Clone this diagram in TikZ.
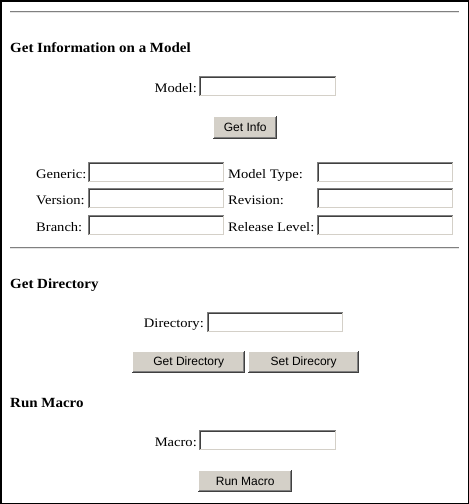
\documentclass[tikz,border=0pt]{standalone}
\usepackage{fontspec}
\setmainfont{Liberation Serif}
\newfontfamily\lblfont{Liberation Serif}[FakeStretch=1.12]
\newfontfamily\headfont{Liberation Serif}[FakeStretch=1.07]
\newfontfamily\btnfont{Liberation Sans}
\usetikzlibrary{calc}
\definecolor{ink}{HTML}{000000}
\definecolor{rulegray}{HTML}{808080}
\definecolor{rulelight}{HTML}{E4E4E4}
\definecolor{face}{HTML}{D4D0C8}
\definecolor{shadow}{HTML}{808080}
\definecolor{darkshadow}{HTML}{404040}
\tikzset{
  frame/.style={draw=ink, line width=1.5pt},
  hrule/.style={draw=rulegray, line width=1pt},
  hrulelo/.style={draw=rulelight, line width=1pt},
  head/.style={text=ink, inner sep=0pt, anchor=base west, font=\headfont\bfseries\fontsize{14pt}{16pt}\selectfont},
  lbl/.style={text=ink, inner sep=0pt, font=\lblfont\fontsize{13pt}{15pt}\selectfont},
  field/.style={rectangle, inner sep=0pt, anchor=north west, fill=white,
    minimum width=137pt, minimum height=20pt,
    path picture={
      \draw[shadow, line width=1pt]
        ([shift={(0.5pt,0.5pt)}]path picture bounding box.south west) --
        ([shift={(0.5pt,-0.5pt)}]path picture bounding box.north west) --
        ([shift={(-0.5pt,-0.5pt)}]path picture bounding box.north east);
      \draw[darkshadow, line width=1pt]
        ([shift={(1.5pt,1.5pt)}]path picture bounding box.south west) --
        ([shift={(1.5pt,-1.5pt)}]path picture bounding box.north west) --
        ([shift={(-1.5pt,-1.5pt)}]path picture bounding box.north east);
      \draw[face, line width=1pt]
        ([shift={(1pt,0.5pt)}]path picture bounding box.south west) --
        ([shift={(-0.5pt,0.5pt)}]path picture bounding box.south east) --
        ([shift={(-0.5pt,-1pt)}]path picture bounding box.north east);
    }},
  button/.style={rectangle, inner sep=0pt, anchor=north west, fill=face, text=ink,
    font=\btnfont\fontsize{12pt}{14pt}\selectfont,
    path picture={
      \draw[white, line width=1pt]
        ([shift={(0.5pt,1pt)}]path picture bounding box.south west) --
        ([shift={(0.5pt,-0.5pt)}]path picture bounding box.north west) --
        ([shift={(-1pt,-0.5pt)}]path picture bounding box.north east);
      \draw[darkshadow, line width=1pt]
        ([shift={(0pt,0.5pt)}]path picture bounding box.south west) --
        ([shift={(-0.5pt,0.5pt)}]path picture bounding box.south east) --
        ([shift={(-0.5pt,0pt)}]path picture bounding box.north east);
      \draw[shadow, line width=1pt]
        ([shift={(1pt,1.5pt)}]path picture bounding box.south west) --
        ([shift={(-1.5pt,1.5pt)}]path picture bounding box.south east) --
        ([shift={(-1.5pt,-1pt)}]path picture bounding box.north east);
    }}
}
\begin{document}
\begin{tikzpicture}[x=1pt, y=-1pt]
  \useasboundingbox (0,0) rectangle (469,504);
  \draw[frame] (0.75,0.75) rectangle (468.25,503.25);

  % first section
  \draw[hrule] (10,11.5) -- (459,11.5);
  \draw[hrulelo] (10,12.5) -- (459,12.5);
  \node[head] (hinfo) at (10,52) {Get Information on a Model};

  \node[field] (fmodel) at (199,76) {};
  \node[lbl, anchor=base east] (lmodel) at (197,92.5) {Model:};
  \node[button, minimum width=64pt, minimum height=23pt] (bgetinfo) at (213,116) {Get Info};

  \node[field, minimum width=136pt] (fgeneric) at (88,162) {};
  \node[field, minimum width=136pt] (fversion) at (88,188) {};
  \node[field, minimum width=136pt] (fbranch) at (88,215) {};
  \node[field, minimum width=136pt] (ftype) at (317,162) {};
  \node[field, minimum width=136pt] (frevision) at (317,188) {};
  \node[field, minimum width=136pt] (frelease) at (317,215) {};

  \node[lbl, anchor=base west] (lgeneric) at (36,178) {Generic:};
  \node[lbl, anchor=base west] (lversion) at (36,204) {Version:};
  \node[lbl, anchor=base west] (lbranch) at (36,231) {Branch:};
  \node[lbl, anchor=base west] (ltype) at (228,178) {Model Type:};
  \node[lbl, anchor=base west] (lrevision) at (228,204) {Revision:};
  \node[lbl, anchor=base west] (lrelease) at (228,231) {Release Level:};

  % second section
  \draw[hrule] (10,247.5) -- (459,247.5);
  \draw[hrulelo] (10,248.5) -- (459,248.5);
  \node[head] (hdir) at (10,288) {Get Directory};

  \node[field, minimum width=136pt] (fdir) at (207,312) {};
  \node[lbl, anchor=base east] (ldir) at (204,327.5) {Directory:};
  \node[button, minimum width=113pt, minimum height=22pt] (bgetdir) at (132,351) {Get Directory};
  \node[button, minimum width=111pt, minimum height=22pt] (bsetdir) at (248,351) {Set Direcory};

  % third section
  \node[head] (hmacro) at (10,407) {Run Macro};

  \node[field] (fmacro) at (199,430) {};
  \node[lbl, anchor=base east] (lmacro) at (197,446.5) {Macro:};
  \node[button, minimum width=94pt, minimum height=22pt] (brun) at (198,470) {Run Macro};
\end{tikzpicture}
\end{document}
